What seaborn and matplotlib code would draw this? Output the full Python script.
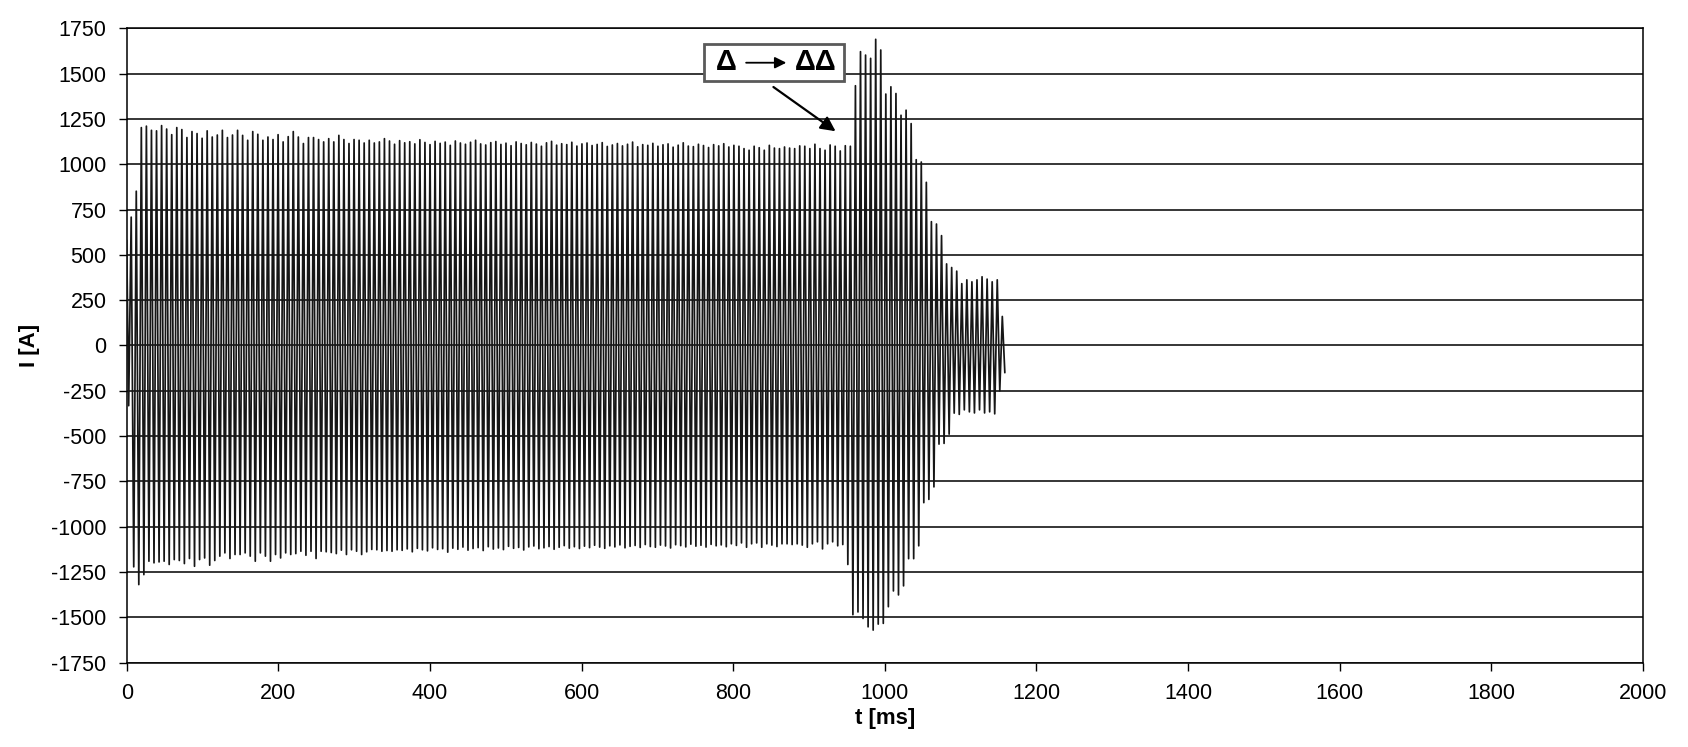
import numpy as np
import pandas as pd
import matplotlib
matplotlib.use("Agg")
import matplotlib.pyplot as plt
from matplotlib.patches import Rectangle
import seaborn as sns

# ---------------- data ----------------
# start of record
start_t = [0.0]
start_i = [580]

# timing of the alternating extremes (low, high, low, high ...)
first_extreme_t = 2.6      # ms, first (negative) extreme
half_period = 3.34         # ms between consecutive extremes

# positive peaks (one per cycle)
high_peaks = [
    708, 851,
    1202, 1210, 1187, 1184, 1213, 1194, 1163, 1202, 1191, 1147,
    1180, 1169, 1143, 1184, 1150, 1161, 1187, 1147, 1161, 1187,
    1159, 1132, 1180, 1165, 1132, 1150, 1136, 1163, 1123, 1152,
    1180, 1150, 1114, 1147, 1147, 1136, 1123, 1141, 1123, 1159,
    1136, 1114, 1136, 1132, 1117, 1132, 1117, 1123, 1141, 1128,
    1110,
    1130, 1118, 1124, 1112, 1135, 1120, 1108, 1126, 1115, 1122,
    1104, 1128, 1117, 1110, 1121, 1132, 1112, 1106, 1119, 1125,
    1109, 1116, 1102, 1123, 1114, 1107, 1120, 1111, 1099, 1118,
    1126, 1105, 1113, 1108, 1121, 1100, 1112, 1117, 1103, 1109,
    1119, 1098, 1106, 1114, 1101, 1110, 1122, 1096, 1108, 1104,
    1115, 1099, 1107, 1112, 1094, 1105, 1118, 1100, 1097, 1110,
    1103, 1092, 1108, 1101, 1113, 1095, 1104, 1099,
    1086, 1077, 1099, 1091, 1077, 1104, 1089, 1086, 1095, 1089,
    1086, 1101, 1099, 1086, 1110, 1086, 1077, 1106, 1099, 1073,
    1102, 1099,
    1433, 1621, 1602, 1584, 1689, 1630, 1387, 1427, 1390, 1270,
    1298, 1224, 1025, 1012, 900, 683, 670, 606, 450, 430, 410,
    341, 362, 351, 362, 379, 366, 351, 362,
    160,
]

# negative peaks (one per cycle)
low_peaks = [
    -332,
    -1221, -1319, -1264, -1190, -1199, -1194, -1190, -1208, -1181, -1186,
    -1203, -1175, -1218, -1181, -1172, -1212, -1186, -1162, -1144, -1175,
    -1153, -1153, -1144, -1162, -1190, -1144, -1162, -1190, -1153, -1172,
    -1144, -1153, -1148, -1135, -1157, -1135, -1175, -1135, -1138, -1142,
    -1148, -1129, -1153, -1127, -1135, -1153, -1138, -1125, -1127, -1135,
    -1131, -1135, -1127,
    -1130, -1122, -1138, -1119, -1127, -1133, -1116, -1125, -1121, -1140,
    -1118, -1124, -1112, -1129, -1120, -1115, -1131, -1110, -1123, -1117,
    -1126, -1108, -1119, -1114, -1128, -1111, -1106, -1121, -1116, -1109,
    -1124, -1113, -1104, -1118, -1110, -1120, -1107, -1115, -1102, -1112,
    -1119, -1105, -1111, -1100, -1116, -1108, -1103, -1114, -1098, -1109,
    -1113, -1101, -1106, -1117, -1099, -1104, -1111, -1096, -1107, -1102,
    -1112, -1097, -1105, -1100, -1110, -1094, -1103,
    -1089, -1113, -1094, -1089, -1113, -1094, -1101, -1109, -1094, -1094,
    -1098, -1094, -1101, -1113, -1094, -1083, -1122, -1094, -1083, -1105,
    -1098, -1208,
    -1485, -1470, -1506, -1552, -1570, -1537, -1533, -1441, -1354, -1376,
    -1326, -1176, -1176, -1105, -867, -849, -780, -544, -540, -489,
    -373, -380,
    -355, -366, -372, -355, -372, -366, -377, -250, -150,
]

x_ticks = [0, 200, 400, 600, 800, 1000, 1200, 1400, 1600, 1800, 2000]
y_ticks = [-1750, -1500, -1250, -1000, -750, -500, -250, 0,
           250, 500, 750, 1000, 1250, 1500, 1750]
x_label = "t [ms]"
y_label = "I [A]"
note_left = "Δ"
note_right = "ΔΔ"

# ---------------- build series ----------------
n_ext = len(low_peaks) + len(high_peaks)
extremes = np.empty(n_ext)
extremes[0::2] = low_peaks
extremes[1::2] = high_peaks
ext_t = first_extreme_t + half_period * np.arange(n_ext)

df = pd.DataFrame({
    "t": np.concatenate([start_t, ext_t]),
    "i": np.concatenate([start_i, extremes]),
})

# ---------------- style ----------------
sns.set_style("white")
plt.rcParams["font.family"] = ["Liberation Sans", "DejaVu Sans"]
plt.rcParams["axes.unicode_minus"] = False

fig = plt.figure(figsize=(16.88, 7.47), dpi=100)
ax = fig.add_axes([0.07506, 0.11285, 0.8983, 0.8493])

sns.lineplot(data=df, x="t", y="i", ax=ax, color="#161616", linewidth=1.25,
             sort=False, estimator=None, legend=False, zorder=3)

ax.set_xlim(0, 2000)
ax.set_ylim(-1750, 1750)
ax.set_xticks(x_ticks)
ax.set_yticks(y_ticks)
ax.set_xticklabels([str(v) for v in x_ticks])
ax.set_yticklabels([str(v) for v in y_ticks])

ax.yaxis.grid(True, color="black", linewidth=1.1)
ax.xaxis.grid(False)
ax.set_axisbelow(True)
for s in ax.spines.values():
    s.set_color("black")
    s.set_linewidth(1.1)

ax.tick_params(axis="both", which="major", direction="out", length=5.5,
               width=1.0, colors="black", labelsize=15.5, pad=9,
               bottom=True, left=True, top=False, right=False)

ax.set_xlabel(x_label, fontsize=16, fontweight="bold", color="black")
ax.set_ylabel(y_label, fontsize=16, fontweight="bold", color="black")
ax.xaxis.set_label_coords(0.5, -0.072)
ax.yaxis.set_label_coords(-0.057, 0.5)

# ---------------- annotation ----------------
ax.add_patch(Rectangle((762, 1457), 184, 205, facecolor="white",
                       edgecolor="#5a5a5a", linewidth=2.0, zorder=6))
ax.text(791, 1562, note_left, ha="center", va="center", fontsize=21,
        fontweight="bold", color="black", zorder=7)
ax.text(909, 1562, note_right, ha="center", va="center", fontsize=21,
        fontweight="bold", color="black", zorder=7)
ax.annotate("", xy=(870, 1560), xytext=(817, 1560),
            arrowprops=dict(arrowstyle="-|>", color="black", lw=1.3,
                            mutation_scale=17, shrinkA=0, shrinkB=0),
            zorder=7)
ax.annotate("", xy=(935, 1182), xytext=(853, 1426),
            arrowprops=dict(arrowstyle="-|>", color="black", lw=1.6,
                            mutation_scale=22, shrinkA=0, shrinkB=0),
            zorder=7)

fig.savefig("out.png", dpi=100)
